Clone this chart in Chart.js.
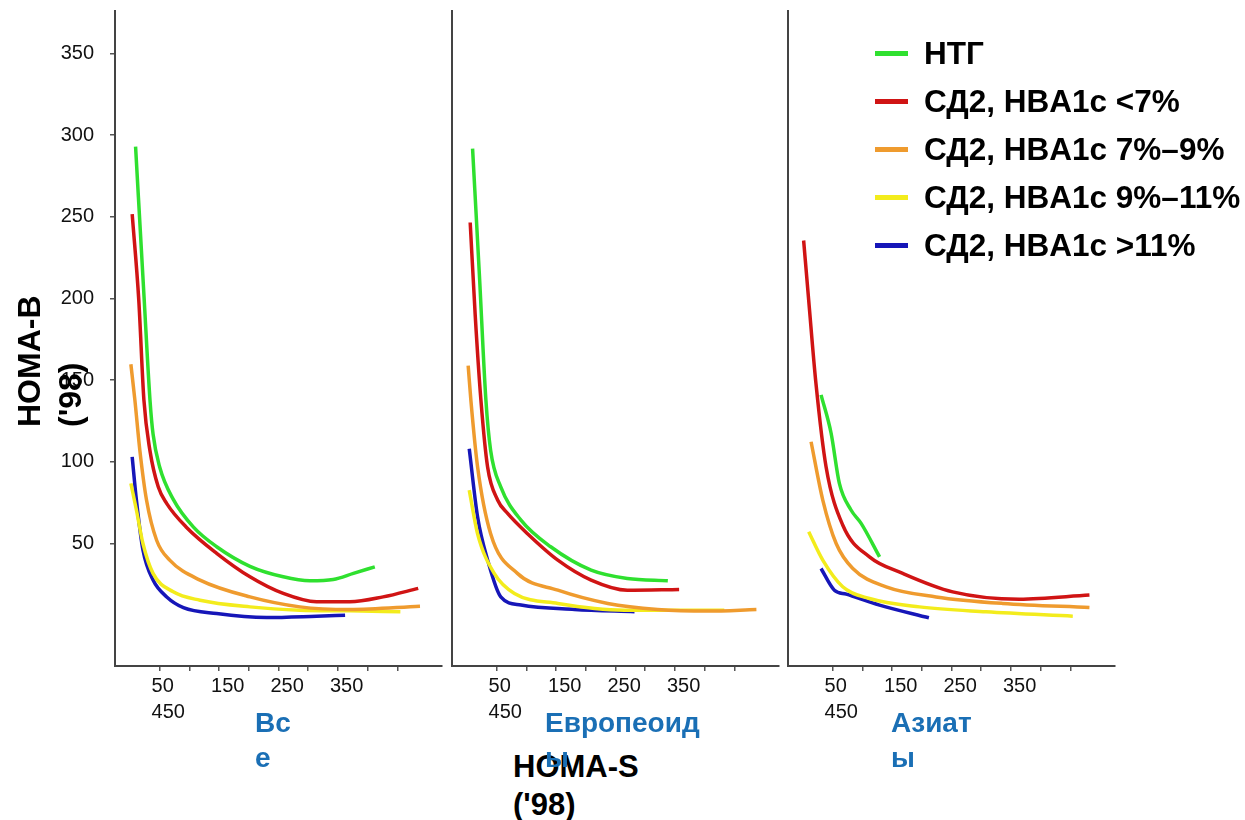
<!DOCTYPE html>
<html lang="ru">
<head>
<meta charset="utf-8">
<title>HOMA-B / HOMA-S</title>
<script src="https://cdn.jsdelivr.net/npm/chart.js@4.4.1/dist/chart.umd.min.js"></script>
<style>
    html, body { margin: 0; padding: 0; background: #fff; }
    body {
        width: 1245px; height: 820px; position: relative; overflow: hidden;
        font-family: "Liberation Sans", Arial, sans-serif;
    }
    canvas.panel { position: absolute; top: 0; }
    .txt { position: absolute; white-space: nowrap; font-weight: bold; }
    .group { color: #1a6fb5; font-size: 28px; line-height: 35px; top: 705px; }
    #xTitle { left: 513px; top: 748px; font-size: 31px; line-height: 38px; color: #000; }
    #yTitle {
        left: 9px; top: 427px; font-size: 32px; line-height: 41px; color: #000;
        transform-origin: 0 0; transform: rotate(-90deg);
    }
    #legend { position: absolute; left: 875px; top: 29px; }
    #legend .row { display: flex; align-items: center; height: 48px; }
    #legend .sw { width: 33px; height: 5px; margin-right: 16px; }
    #legend .lb { font-size: 31.5px; font-weight: bold; color: #000; white-space: nowrap; }
</style>
</head>
<body>
<canvas id="P1" class="panel" width="452" height="740" style="left:0px"></canvas>
<canvas id="P2" class="panel" width="452" height="740" style="left:337px"></canvas>
<canvas id="P3" class="panel" width="452" height="740" style="left:673px"></canvas>

<div id="xTitle" class="txt">HOMA-S<br>('98)</div>
<div id="yTitle" class="txt">HOMA-B<br>('98)</div>
<div class="txt group" style="left:255px">Вс<br>е</div>
<div class="txt group" style="left:545px">Европеоид<br>ы</div>
<div class="txt group" style="left:891px">Азиат<br>ы</div>
<div id="legend"></div>

<script>
(function () {
    "use strict";

    // ============================
    // Data (x = HOMA-S, y = HOMA-B)
    // ============================
    const SERIES_NAMES = ["НТГ", "СД2, HBA1c <7%", "СД2, HBA1c 7%–9%", "СД2, HBA1c 9%–11%", "СД2, HBA1c >11%"];

    // Все
    const vseNtg = [[9.6, 293], [24, 200], [34, 137], [39, 117], [50, 97], [73, 77], [107, 60], [146, 48], [202, 36], [258, 29.6], [303, 27.2], [342, 28], [376, 31.7], [412, 35.7]];
    const vseLt7 = [[3.9, 251.6], [15, 199], [23.6, 138], [33.7, 107], [47.7, 84.7], [61.8, 74.6], [95, 60], [146, 44], [202, 29.6], [258, 19.4], [314, 14.3], [370, 14.3], [426, 17.3], [485, 22.5]];
    const vse7to9 = [[1.7, 159.7], [8.4, 137.9], [16.8, 107], [28, 76.6], [45, 52], [67, 39.8], [118, 27.6], [202, 17.3], [286, 11.2], [370, 9.6], [488, 11.6]];
    const vse9to11 = [[1.7, 86.8], [11, 70.5], [22, 50], [39, 31.7], [73, 20.4], [118, 15.3], [202, 11.2], [286, 9.2], [370, 8.8], [455, 8.2]];
    const vseGt11 = [[3.9, 103], [11, 76.6], [22, 46], [39, 27.6], [62, 17.3], [90, 10.8], [146, 7.1], [230, 4.7], [314, 5.5], [362, 6.1]];

    // Европеоиды
    const evrNtg = [[9.6, 291.7], [21, 215], [32, 137.9], [40, 107], [57, 84.7], [91, 64.3], [141, 48], [209, 33.7], [270, 28.6], [338, 27.2]];
    const evrLt7 = [[5.6, 246.5], [14, 190], [23.6, 137.9], [34.8, 97], [51.7, 76.6], [68.5, 68.4], [102, 56], [153, 39.8], [209, 27.6], [270, 21.4], [357, 21.9]];
    const evr7to9 = [[2.2, 158.9], [6.7, 137.9], [18, 97], [40, 56], [85, 31.7], [153, 21.4], [237, 13.3], [321, 9.6], [405, 8.6], [487, 9.6]];
    const evr9to11 = [[4, 82.7], [18, 56], [46, 31.7], [80, 19.4], [153, 13.3], [265, 9.2], [433, 9.2]];
    const evrGt11 = [[4, 108], [18, 66.4], [35, 39.8], [57, 17.3], [91, 12.3], [181, 9.6], [282, 8.2]];

    // Азиаты
    const aziNtg = [[30.6, 141], [47.5, 117.5], [61.4, 86.8], [81, 70.5], [98, 62.3], [129, 41.8]];
    const aziLt7 = [[1.3, 235.5], [9.8, 199], [22, 148], [39, 97], [67, 61.3], [112, 41.8], [168, 31.7], [252, 20.4], [364, 15.9], [482, 18.4]];
    const azi7to9 = [[13.8, 112.3], [33.5, 76.6], [56, 50], [84, 34.7], [140, 23.5], [224, 17.3], [336, 13.3], [482, 10.8]];
    const azi9to11 = [[9.8, 57.2], [33.5, 39.8], [67, 23.5], [112, 16.3], [196, 11.2], [308, 8.2], [454, 5.5]];
    const aziGt11 = [[30.6, 34.7], [53, 21.4], [73, 19], [129, 12.3], [212, 4.5]];

    // axes
    const X_MIN = -25, X_MAX = 525;
    const Y_MIN = -25, Y_MAX = 376;
    const xTicks = [50, 100, 150, 200, 250, 300, 350, 400, 450];
    const xTickText = [["50", "450"], "", "150", "", "250", "", "350", "", ""];
    const yTicks = [50, 100, 150, 200, 250, 300, 350];
    const yTickText = ["50", "100", "150", "200", "250", "300", "350"];

    // ============================
    // Styles
    // ============================
    const COLORS = ["#2fe02f", "#d01414", "#ef9b2e", "#f3ec1c", "#1616b8"];
    const AXIS_COLOR = "#444";
    const FONT = "'Liberation Sans', Arial, sans-serif";

    Chart.defaults.font.family = FONT;
    Chart.defaults.color = "#111";

    function toXY(points) {
        return points.map(p => ({ x: p[0], y: p[1] }));
    }

    function makeDatasets(list) {
        return list.map((pts, i) => ({
            label: SERIES_NAMES[i],
            data: toXY(pts),
            borderColor: COLORS[i],
            backgroundColor: COLORS[i],
            borderWidth: 3.5,
            pointRadius: 0,
            cubicInterpolationMode: "monotone",
            borderCapStyle: "butt",
            fill: false
        }));
    }

    function makePanel(canvasId, list, showYLabels) {
        const ctx = document.getElementById(canvasId).getContext("2d");
        return new Chart(ctx, {
            type: "line",
            data: { datasets: makeDatasets(list) },
            options: {
                responsive: false,
                animation: false,
                layout: { padding: { left: 0, top: 11, right: 10, bottom: 0 } },
                plugins: { legend: { display: false }, tooltip: { enabled: false } },
                scales: {
                    x: {
                        type: "linear",
                        min: X_MIN,
                        max: X_MAX,
                        afterBuildTicks: s => { s.ticks = xTicks.map(v => ({ value: v })); },
                        afterFit: s => { s.height = 74; s.paddingLeft = 0; s.paddingRight = 0; },
                        grid: { drawOnChartArea: false, drawTicks: true, tickLength: 5, color: "#555", lineWidth: 1.5 },
                        border: { display: true, color: AXIS_COLOR, width: 2 },
                        ticks: {
                            autoSkip: false,
                            maxRotation: 0,
                            align: "start",
                            labelOffset: -8,
                            padding: 2,
                            color: "#111",
                            font: { size: 20, lineHeight: 1.3 },
                            callback: (v, i) => xTickText[i]
                        }
                    },
                    y: {
                        type: "linear",
                        min: Y_MIN,
                        max: Y_MAX,
                        afterBuildTicks: s => { s.ticks = yTicks.map(v => ({ value: v })); },
                        afterFit: s => { s.width = 115; s.paddingTop = 0; s.paddingBottom = 0; },
                        grid: { display: showYLabels, drawOnChartArea: false, drawTicks: true, tickLength: 5, color: "#555", lineWidth: 1.5 },
                        border: { display: true, color: AXIS_COLOR, width: 2 },
                        ticks: {
                            display: showYLabels,
                            autoSkip: false,
                            padding: 16,
                            color: "#111",
                            font: { size: 20 },
                            callback: (v, i) => yTickText[i]
                        }
                    }
                }
            }
        });
    }

    makePanel("P1", [vseNtg, vseLt7, vse7to9, vse9to11, vseGt11], true);
    makePanel("P2", [evrNtg, evrLt7, evr7to9, evr9to11, evrGt11], false);
    makePanel("P3", [aziNtg, aziLt7, azi7to9, azi9to11, aziGt11], false);

    // legend
    const legend = document.getElementById("legend");
    SERIES_NAMES.forEach((name, i) => {
        const row = document.createElement("div");
        row.className = "row";
        const sw = document.createElement("div");
        sw.className = "sw";
        sw.style.background = COLORS[i];
        const lb = document.createElement("div");
        lb.className = "lb";
        lb.textContent = name;
        row.appendChild(sw);
        row.appendChild(lb);
        legend.appendChild(row);
    });
})();
</script>
</body>
</html>
